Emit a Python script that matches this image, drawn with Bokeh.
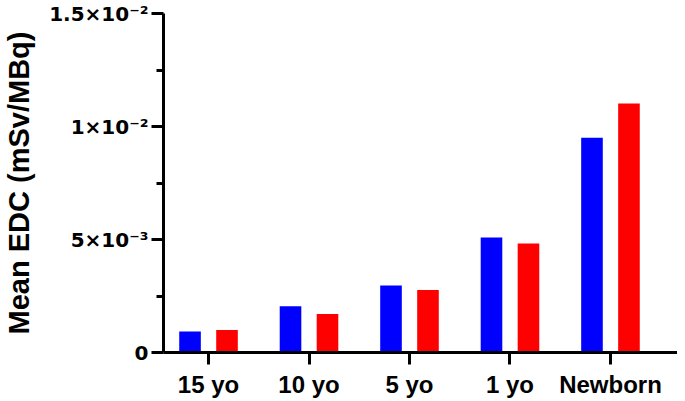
from bokeh.plotting import figure
from bokeh.models import Range1d, FixedTicker, ColumnDataSource
from bokeh.transform import dodge
from bokeh.embed import file_html
from bokeh.resources import INLINE

categories = ["15 yo", "10 yo", "5 yo", "1 yo", "Newborn"]
series_blue = [0.00093, 0.00205, 0.00296, 0.00509, 0.0095]
series_red = [0.00100, 0.00170, 0.00277, 0.00482, 0.01102]
y_ticks = [0, 0.005, 0.01, 0.015]
y_tick_labels = ["0", "5×10⁻³", "1×10⁻²", "1.5×10⁻²"]
y_minor = [0.0025, 0.0075, 0.0125]

xpos = list(range(len(categories)))
src = ColumnDataSource(dict(x=xpos, blue=series_blue, red=series_red))

FONT = "Liberation Sans"

p = figure(frame_width=514, frame_height=339, output_backend="svg",
           toolbar_location=None, x_range=Range1d(-0.448, 4.667),
           y_range=Range1d(0, 0.015),
           min_border_left=163, min_border_right=0, min_border_top=13,
           min_border_bottom=48)
p.outline_line_color = None
p.grid.visible = False
p.background_fill_color = "white"
p.border_fill_color = "white"

p.vbar(x=dodge("x", -0.184), top="blue", width=0.215, bottom=0, source=src,
       fill_color="#0000FF", line_color=None)
p.vbar(x=dodge("x", 0.184), top="red", width=0.215, bottom=0, source=src,
       fill_color="#FF0000", line_color=None)

xa = p.xaxis[0]
xa.ticker = FixedTicker(ticks=xpos)
xa.major_label_overrides = {i: c for i, c in zip(xpos, categories)}
xa.axis_line_width = 3
xa.axis_line_color = "black"
xa.major_tick_line_width = 3
xa.major_tick_in = 0
xa.major_tick_out = 12
xa.minor_tick_line_color = None
xa.major_label_text_font = FONT
xa.major_label_text_font_style = "bold"
xa.major_label_text_font_size = "24px"
xa.major_label_text_color = "black"
xa.major_label_standoff = 6

ya = p.yaxis[0]
ya.ticker = FixedTicker(ticks=y_ticks, minor_ticks=y_minor)
ya.major_label_overrides = {t: l for t, l in zip(y_ticks, y_tick_labels)}
ya.axis_line_width = 3
ya.axis_line_color = "black"
ya.major_tick_line_width = 3
ya.major_tick_in = 0
ya.major_tick_out = 12
ya.minor_tick_line_width = 3
ya.minor_tick_in = 0
ya.minor_tick_out = 7
ya.major_label_text_font = "DejaVu Sans"
ya.major_label_text_font_style = "bold"
ya.major_label_text_font_size = "20px"
ya.major_label_text_color = "black"
ya.major_label_standoff = 3
ya.axis_label = "Mean EDC (mSv/MBq)"
ya.axis_label_text_font = FONT
ya.axis_label_text_font_style = "bold"
ya.axis_label_text_font_size = "29px"
ya.axis_label_text_color = "black"
ya.axis_label_standoff = 11

open("out.html", "w").write(file_html(p, INLINE))
